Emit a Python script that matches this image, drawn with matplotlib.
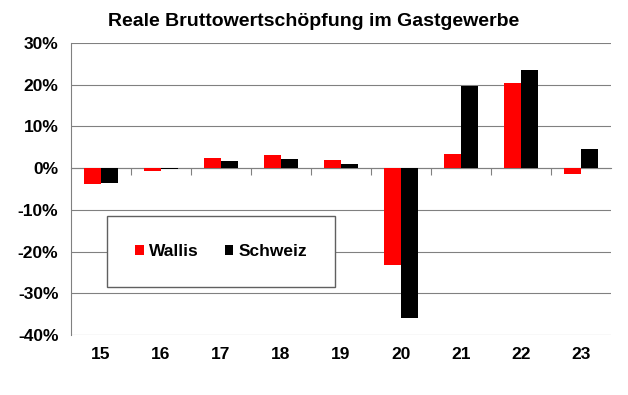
import numpy as np
import matplotlib.pyplot as plt
from matplotlib.ticker import FuncFormatter

plt.rcParams['font.family'] = ['Liberation Sans', 'DejaVu Sans']
plt.rcParams['font.weight'] = 'bold'

years = ['15', '16', '17', '18', '19', '20', '21', '22', '23']
wallis = [-3.8, -0.6, 2.5, 3.2, 1.9, -23.2, 3.4, 20.5, -1.4]
schweiz = [-3.5, -0.3, 1.8, 2.3, 1.0, -36.0, 19.8, 23.6, 4.6]

x = np.arange(len(years))
w = 0.28

fig = plt.figure(figsize=(6.28, 3.95), dpi=100)
ax = fig.add_axes([0.113, 0.152, 0.86, 0.739])

ax.bar(x - w / 2, wallis, w, color='#ff0000', label='Wallis', zorder=3)
ax.bar(x + w / 2, schweiz, w, color='#000000', label='Schweiz', zorder=3)

ax.set_xlim(-0.5, len(years) - 0.5)
ax.set_ylim(-40, 30)
ax.set_yticks(np.arange(-40, 31, 10))
ax.yaxis.set_major_formatter(FuncFormatter(lambda v, p: f'{v:.0f}%'))
ax.grid(axis='y', color='#808080', linewidth=0.8, zorder=0)
ax.tick_params(axis='y', length=0, labelsize=12.5, pad=9)

ax.set_xticks(x)
ax.set_xticklabels(years, fontsize=12.5, fontweight='bold')
ax.tick_params(axis='x', length=0, pad=9)

for s in ['top', 'right', 'bottom']:
    ax.spines[s].set_visible(False)
ax.spines['left'].set_color('#808080')

# zero line with category tick marks
zero = ax.secondary_xaxis(40 / 70)
zero.set_xticks(np.arange(0.5, len(years) - 0.5, 1))
zero.set_xticklabels([])
zero.tick_params(length=5, color='#808080', direction='in')
zero.spines['bottom'].set_color('#808080')
zero.spines['top'].set_color('#808080')

fig.suptitle('Reale Bruttowertschöpfung im Gastgewerbe', fontsize=14,
             fontweight='bold', x=0.5, y=0.967)

leg = ax.legend(loc='center', bbox_to_anchor=(0.067, 0.161, 0.422, 0.25),
                mode='expand', ncol=2, fancybox=False, edgecolor='#606060',
                framealpha=1, fontsize=12.5, handlelength=0.5, handleheight=0.5,
                borderpad=1.6, handletextpad=0.3, borderaxespad=0,
                columnspacing=2.5)
leg.get_frame().set_linewidth(1.0)
leg.set_zorder(5)

fig.savefig('out.png', dpi=100)
